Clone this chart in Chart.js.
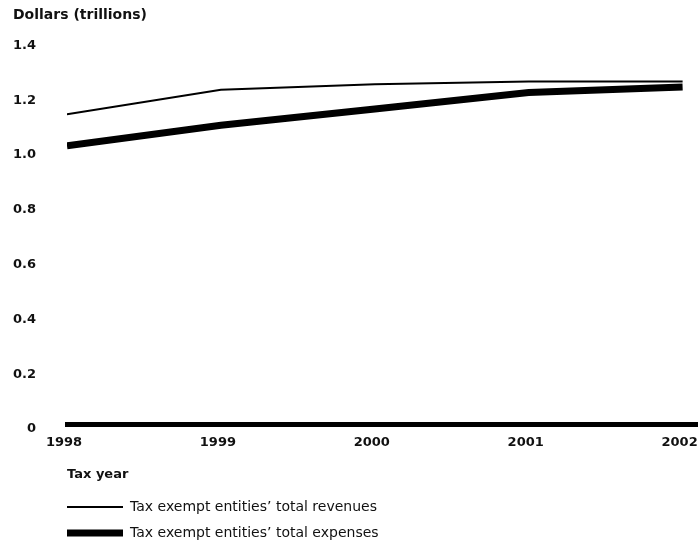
<!DOCTYPE html>
<html>
<head>
<meta charset="utf-8">
<script src="https://cdn.jsdelivr.net/npm/chart.js@4/dist/chart.umd.min.js"></script>
<style>
html,body{margin:0;padding:0;background:#fff;}
canvas{display:block;}
</style>
</head>
<body>
<canvas id="c" width="698" height="544"></canvas>
<script>
// ---- data ----
const years = [1998, 1999, 2000, 2001, 2002];
const xTickLabels = ['1998', '1999', '2000', '2001', '2002'];
const revenues = [1.13, 1.22, 1.24, 1.25, 1.25];
const expenses = [1.015, 1.09, 1.15, 1.21, 1.23];
const yTickLabels = ['0', '0.2', '0.4', '0.6', '0.8', '1.0', '1.2', '1.4'];
const seriesNames = ['Tax exempt entities\u2019 total revenues', 'Tax exempt entities\u2019 total expenses'];
const yAxisTitle = 'Dollars (trillions)';
const xAxisTitle = 'Tax year';

const toPoints = vals => vals.map((v, i) => ({ x: years[i], y: v }));
const TXT = '#111';
const FAM = 'DejaVu Sans';

const legendShift = {
  id: 'legendShift',
  afterLayout(chart) {
    const l = chart.legend;
    if (l) { l.left -= 12; l.right -= 12; }
  }
};

new Chart(document.getElementById('c'), {
  type: 'line',
  data: {
    datasets: [
      { label: seriesNames[0], data: toPoints(revenues), borderColor: '#000', borderWidth: 2,
        pointRadius: 0, pointBorderWidth: 2, pointBorderColor: '#000', tension: 0, fill: false },
      { label: seriesNames[1], data: toPoints(expenses), borderColor: '#000', borderWidth: 7,
        pointRadius: 0, pointBorderWidth: 7, pointBorderColor: '#000', tension: 0, fill: false }
    ]
  },
  options: {
    responsive: false,
    animation: false,
    events: [],
    layout: { padding: { left: 13, right: 0, top: 0, bottom: -6 } },
    scales: {
      x: {
        type: 'linear', min: 1998, max: 2002.1,
        afterBuildTicks: s => { s.ticks = xTickLabels.map(l => ({ value: Number(l) })); },
        afterFit: s => { s.paddingLeft = 0; s.paddingRight = 0; },
        grid: { display: false, drawTicks: false },
        border: { display: true, width: 5, color: '#000' },
        ticks: { padding: 11, labelOffset: -3, maxRotation: 0, autoSkip: false, color: TXT,
                 font: { family: FAM, size: 13, weight: 'bold' },
                 callback: (v, i) => xTickLabels[i] },
        title: { display: true, text: xAxisTitle, align: 'start', color: TXT,
                 font: { family: FAM, size: 13, weight: 'bold' },
                 padding: { top: 5.6, bottom: 5.2 } }
      },
      y: {
        min: 0, max: 1.4,
        afterBuildTicks: s => { s.ticks = yTickLabels.map(l => ({ value: Number(l) })); },
        afterFit: s => { s.width = 54; s.paddingTop = 0; s.paddingBottom = 0; },
        grid: { display: false, drawTicks: false },
        border: { display: false },
        ticks: { padding: 31, labelOffset: 5, color: TXT,
                 font: { family: FAM, size: 13, weight: 'bold' },
                 callback: (v, i) => yTickLabels[i] }
      }
    },
    plugins: {
      title: { display: true, text: yAxisTitle, align: 'start', color: TXT,
               font: { family: FAM, size: 14, weight: 'bold' },
               padding: { top: 6.6, bottom: 17 } },
      legend: {
        display: true, position: 'bottom', align: 'start', fullSize: false,
        labels: { usePointStyle: true, pointStyle: 'line', pointStyleWidth: 56, padding: 12,
                  color: TXT, font: { family: FAM, size: 14 } }
      },
      tooltip: { enabled: false }
    }
  },
  plugins: [legendShift]
});
</script>
</body>
</html>
